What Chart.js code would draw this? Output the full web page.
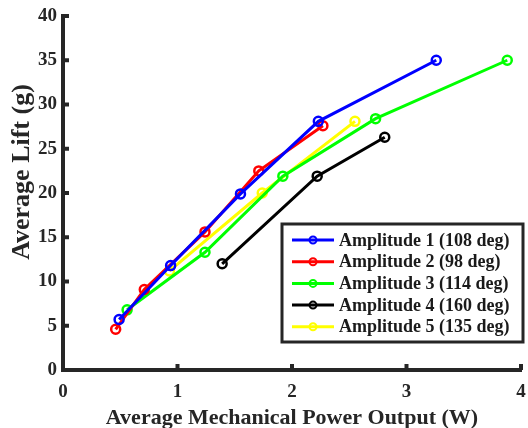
<!DOCTYPE html>
<html>
<head>
<meta charset="utf-8">
<script src="https://cdn.jsdelivr.net/npm/chart.js@4"></script>
<style>
	html, body { margin: 0; padding: 0; background: #ffffff; }
	#wrap { width: 528px; height: 428px; }
</style>
</head>
<body>
<div id="wrap"><canvas id="liftChart" width="528" height="428"></canvas></div>
<script>
	'use strict'

	const seriesLabels = [
		'Amplitude 1 (108 deg)',
		'Amplitude 2 (98 deg)',
		'Amplitude 3 (114 deg)',
		'Amplitude 4 (160 deg)',
		'Amplitude 5 (135 deg)'
	];
	const seriesColors = ['#0000ff', '#ff0000', '#00ff00', '#000000', '#ffff00'];

	// average mechanical power (W) per series
	const powerValues = [
		[0.49, 0.94, 1.55, 2.23, 3.26],
		[0.46, 0.71, 1.24, 1.71, 2.27],
		[0.56, 1.24, 1.92, 2.73, 3.88],
		[1.39, 2.22, 2.81],
		[0.93, 1.74, 2.55]
	];
	// average lift (g) per series
	const liftValues = [
		[5.7, 11.8, 19.9, 28.1, 35.0],
		[4.6, 9.1, 15.6, 22.5, 27.6],
		[6.8, 13.3, 21.9, 28.4, 35.0],
		[12.0, 21.9, 26.3],
		[11.2, 20.0, 28.1]
	];

	const xTicks = [0, 1, 2, 3, 4];
	const yTicks = [0, 5, 10, 15, 20, 25, 30, 35, 40];
	const xTitle = 'Average Mechanical Power Output (W)';
	const yTitle = 'Average Lift (g)';

	const axisColor = '#262626';
	const serifFont = '"Liberation Serif", "Times New Roman", serif';

	const datasets = seriesLabels.map(function(label, i) {
		return {
			label: label,
			data: powerValues[i].map(function(x, j) {
				return { x: x, y: liftValues[i][j] };
			}),
			showLine: true,
			borderColor: seriesColors[i],
			backgroundColor: seriesColors[i],
			borderWidth: 3,
			pointRadius: 4.5,
			pointBorderWidth: 2.5,
			pointBackgroundColor: 'transparent',
			pointBorderColor: seriesColors[i],
			pointHoverRadius: 4.5
		};
	});

	// inward tick marks, MATLAB style, plus the y title (sits above centre in the original)
	const innerTicks = {
		id: 'innerTicks',
		afterDraw: function(chart) {
			const ctx = chart.ctx;
			const area = chart.chartArea;
			const xs = chart.scales.x;
			const ys = chart.scales.y;
			ctx.save();
			ctx.strokeStyle = axisColor;
			ctx.lineWidth = 4;
			xTicks.forEach(function(v) {
				const px = xs.getPixelForValue(v);
				ctx.beginPath();
				ctx.moveTo(px, area.bottom);
				ctx.lineTo(px, area.bottom - 6);
				ctx.stroke();
			});
			yTicks.forEach(function(v) {
				const py = ys.getPixelForValue(v);
				ctx.beginPath();
				ctx.moveTo(area.left, py);
				ctx.lineTo(area.left + 6, py);
				ctx.stroke();
			});

			ctx.translate(22, 172);
			ctx.rotate(-Math.PI / 2);
			ctx.font = 'bold 26px ' + serifFont;
			ctx.fillStyle = '#262626';
			ctx.textAlign = 'center';
			ctx.textBaseline = 'middle';
			ctx.fillText(yTitle, 0, 0);
			ctx.restore();
		}
	};

	// boxed legend inside the plot, line + circle sample per row
	const boxLegend = {
		id: 'boxLegend',
		afterDraw: function(chart) {
			const ctx = chart.ctx;
			const area = chart.chartArea;
			const left = area.right - 239;
			const right = area.right + 2;
			const top = 224;
			const bottom = 342;
			const rowGap = 21.7;
			ctx.save();
			ctx.fillStyle = '#ffffff';
			ctx.fillRect(left, top, right - left, bottom - top);
			ctx.strokeStyle = axisColor;
			ctx.lineWidth = 3;
			ctx.strokeRect(left, top, right - left, bottom - top);
			ctx.font = 'bold 18px ' + serifFont;
			ctx.textBaseline = 'middle';
			ctx.textAlign = 'left';
			chart.data.datasets.forEach(function(ds, i) {
				const cy = top + 16 + i * rowGap;
				ctx.strokeStyle = ds.borderColor;
				ctx.lineWidth = 3;
				ctx.beginPath();
				ctx.moveTo(left + 10, cy);
				ctx.lineTo(left + 52, cy);
				ctx.stroke();
				ctx.lineWidth = 2;
				ctx.beginPath();
				ctx.arc(left + 31, cy, 3.5, 0, Math.PI * 2);
				ctx.stroke();
				ctx.fillStyle = '#1a1a1a';
				ctx.fillText(ds.label, left + 57, cy + 1);
			});
			ctx.restore();
		}
	};

	new Chart(document.getElementById('liftChart'), {
		type: 'scatter',
		data: { datasets: datasets },
		plugins: [innerTicks, boxLegend],
		options: {
			responsive: false,
			animation: false,
			layout: { padding: { top: 16, right: 6, left: 0, bottom: 0 } },
			plugins: {
				legend: { display: false },
				tooltip: { enabled: false }
			},
			scales: {
				x: {
					type: 'linear',
					min: 0,
					max: 4,
					afterFit: function(scale) {
						scale.height = 58;
						scale.paddingLeft = 0;
						scale.paddingRight = 0;
					},
					afterBuildTicks: function(scale) {
						scale.ticks = xTicks.map(function(v) { return { value: v }; });
					},
					grid: { display: true, drawOnChartArea: false, drawTicks: false },
					border: { display: true, color: axisColor, width: 4 },
					ticks: {
						color: '#262626',
						padding: 11,
						maxRotation: 0,
						font: { family: serifFont, size: 19, weight: 'bold' }
					},
					title: {
						display: true,
						text: xTitle,
						color: '#262626',
						padding: { top: 0, bottom: -4 },
						font: { family: serifFont, size: 22, weight: 'bold' }
					}
				},
				y: {
					type: 'linear',
					min: 0,
					max: 40,
					afterFit: function(scale) {
						scale.width = 63;
						scale.paddingTop = 0;
						scale.paddingBottom = 0;
					},
					afterBuildTicks: function(scale) {
						scale.ticks = yTicks.map(function(v) { return { value: v }; });
					},
					grid: { display: true, drawOnChartArea: false, drawTicks: false },
					border: { display: true, color: axisColor, width: 4 },
					ticks: {
						color: '#262626',
						padding: 6,
						font: { family: serifFont, size: 19, weight: 'bold' }
					},
					title: { display: false }
				}
			}
		}
	});
</script>
</body>
</html>
